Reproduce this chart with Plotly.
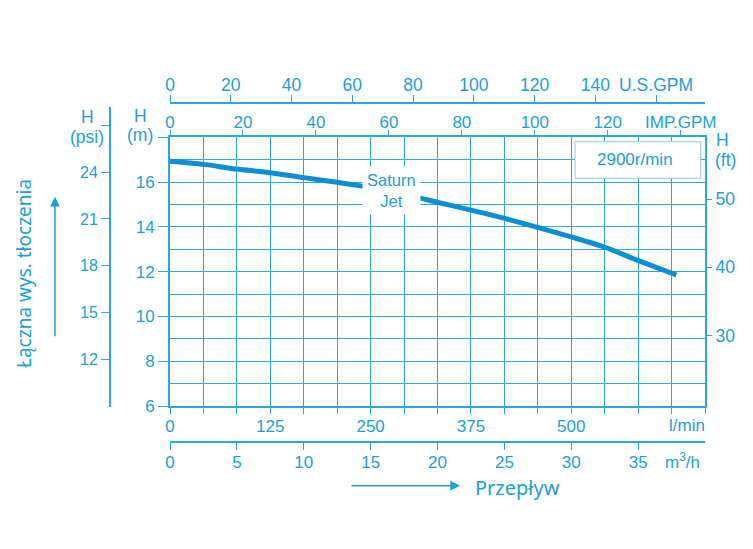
import plotly.graph_objects as go

# ── Data ────────────────────────────────────────────────────────
# pump curve, flow in l/min and head in m
flow_lpm = [0, 42, 83, 125, 167, 208, 250, 292, 333, 375, 417, 458, 500, 542, 583, 631]
head_m = [16.93, 16.79, 16.58, 16.42, 16.20, 15.99, 15.75, 15.45, 15.10, 14.75,
          14.38, 13.98, 13.55, 13.09, 12.50, 11.85]

lpm_labels = [0, 125, 250, 375, 500]
m3h_labels = [0, 5, 10, 15, 20, 25, 30, 35]
imp_labels = [0, 20, 40, 60, 80, 100, 120]
us_labels = [0, 20, 40, 60, 80, 100, 120, 140]
m_labels = [6, 8, 10, 12, 14, 16]
psi_labels = [12, 15, 18, 21, 24]
ft_labels = [30, 40, 50]

# ── Geometry helpers (screen pixels -> paper, page has an 8px body margin) ──
W, H = 753, 549
OFF = 8
def px(x): return (x - OFF) / W
def py(y): return 1 - (y - OFF) / H

BLUE = '#1d9edb'
GRID = '#2aa6e0'
CURVE = '#0b8ed5'
FONT = 'Liberation Sans, Arial, sans-serif'
FONT2 = 'Noto Sans, Open Sans, sans-serif'

Q_MAX = 16 * 125 / 3          # right edge, l/min
IMP, US = 4.54609, 3.78541    # litres per gallon
FT = 0.3048

X_DOM = [px(170), px(705)]
Y_DOM = [py(406), py(137.3)]

fig = go.Figure()
fig.add_trace(go.Scatter(x=flow_lpm, y=head_m, mode='lines',
                         line=dict(color=CURVE, width=5, shape='spline', smoothing=0.6),
                         hoverinfo='skip'))
# dummy traces so the extra axes get drawn
fig.add_trace(go.Scatter(x=[None], y=[None], xaxis='x2', yaxis='y2'))
fig.add_trace(go.Scatter(x=[None], y=[None], xaxis='x3', yaxis='y3'))
fig.add_trace(go.Scatter(x=[None], y=[None], xaxis='x4', yaxis='y'))

grid_q = [i * 125 / 3 for i in range(17)]
grid_txt = [str(int(round(q))) if int(round(q)) in lpm_labels else '' for q in grid_q]

def tf(size): return dict(family=FONT, size=size, color=BLUE)

common = dict(linecolor=GRID, tickcolor=GRID, color=BLUE, zeroline=False,
              automargin=False)

fig.update_layout(
    width=W, height=H,
    margin=dict(l=0, r=0, t=0, b=0, autoexpand=False),
    paper_bgcolor='white', plot_bgcolor='rgba(0,0,0,0)',
    showlegend=False,
    xaxis=dict(domain=X_DOM, range=[0, Q_MAX], tickmode='array',
               tickvals=grid_q, ticktext=grid_txt, ticks='outside', ticklen=6,
               tickwidth=1.3, showgrid=True, gridcolor=GRID, gridwidth=1.3,
               showline=True, mirror=True, linewidth=1.8, tickfont=tf(17),
               ticklabelstandoff=-2, **common),
    yaxis=dict(domain=Y_DOM, range=[6, 18], tickmode='array',
               tickvals=m_labels + [18], ticktext=[str(v) for v in m_labels] + [''],
               ticks='outside', ticklen=10, tickwidth=1.3,
               showgrid=True, gridcolor=GRID, gridwidth=1.3,
               minor=dict(tickmode='array', tickvals=[7, 9, 11, 13, 15, 17],
                          showgrid=True, gridcolor=GRID, gridwidth=1.3, ticks=''),
               showline=True, mirror=True, linewidth=1.8, tickfont=tf(17), **common),
    # IMP.GPM on top of the grid
    xaxis2=dict(overlaying='x', side='top', anchor='y', range=[0, Q_MAX / IMP],
                tickmode='array', tickvals=imp_labels + [140],
                ticktext=[str(v) for v in imp_labels] + ['IMP.GPM'],
                ticks='outside', ticklen=6, tickwidth=1.3, showgrid=False,
                showline=False, tickfont=tf(17), ticklabelstandoff=-4, **common),
    # U.S.GPM, separate line above
    xaxis3=dict(domain=X_DOM, side='top', anchor='free', position=py(103.3),
                range=[0, Q_MAX / US], tickmode='array', tickvals=us_labels + [160],
                ticktext=[str(v) for v in us_labels] + ['U.S.GPM'],
                ticks='outside', ticklen=7, tickwidth=1.3, showgrid=False,
                showline=True, linewidth=1.8, tickfont=tf(17.5),
                ticklabelstandoff=-3, **common),
    # m3/h below
    xaxis4=dict(overlaying='x', side='bottom', anchor='free', position=py(441.7),
                range=[0, Q_MAX * 0.06], tickmode='array', tickvals=m3h_labels,
                ticks='outside', ticklen=7, tickwidth=1.3, showgrid=False,
                showline=True, linewidth=1.8, tickfont=tf(17),
                ticklabelstandoff=-2, **common),
    # head in ft, right side
    yaxis2=dict(overlaying='y', side='right', anchor='x', range=[6 / FT, 18 / FT],
                tickmode='array', tickvals=ft_labels, ticks='outside', ticklen=6,
                tickwidth=1.3, showgrid=False, showline=False, tickfont=tf(17.5),
                **common),
    # head in psi, own line on the far left
    yaxis3=dict(anchor='free', position=px(110), side='left',
                domain=[py(406.7), py(106.7)],
                range=[24 - (406.7 - 172.3) / 15.56, 24 + (172.3 - 106.7) / 15.56],
                tickmode='array', tickvals=psi_labels + [27],
                ticktext=[str(v) for v in psi_labels] + [''],
                ticks='outside', ticklen=8, tickwidth=1.3, showgrid=False,
                showline=True, linewidth=1.8, tickfont=tf(16), **common),
)


def note(x, y, text, size=17.5, xanchor='center', family=FONT, **kw):
    fig.add_annotation(x=px(x), y=py(y), xref='paper', yref='paper', text=text,
                       showarrow=False, xanchor=xanchor, yanchor='middle',
                       font=dict(family=family, size=size, color=BLUE), **kw)


note(87, 116.7, 'H')
note(87, 136.7, '(psi)')
note(140, 115.7, 'H')
note(140, 135, '(m)')
note(722, 140, 'H')
note(725, 160, '(ft)')
note(707, 425, 'l/min', size=17, xanchor='right')
note(702, 461, 'm<sup>3</sup>/h', size=17, xanchor='right')
note(473, 487, 'Przepływ', size=20, xanchor='left', family=FONT2)
note(24, 274, 'Łączna wys. tłoczenia', size=19, family=FONT2, textangle=-90)
note(391, 191, 'Saturn<br>Jet', size=16.5, bgcolor='white', borderpad=4)

# 2900 r/min box
fig.add_shape(type='rect', xref='paper', yref='paper',
              x0=px(575), x1=px(700.7), y0=py(178.3), y1=py(141.7),
              line=dict(color='#8ccbee', width=1), fillcolor='white', layer='above')
note(635, 160, '2900r/min', size=17)

# arrows
fig.add_annotation(x=px(55), y=py(196.7), xref='paper', yref='paper', text='',
                   showarrow=True, ax=0, ay=141, arrowhead=2, arrowsize=1.3,
                   arrowwidth=1.5, arrowcolor=BLUE)
fig.add_annotation(x=px(460), y=py(485.7), xref='paper', yref='paper', text='',
                   showarrow=True, ax=-110, ay=0, arrowhead=2, arrowsize=1.3,
                   arrowwidth=1.5, arrowcolor=BLUE)

fig.write_html("out.html")
